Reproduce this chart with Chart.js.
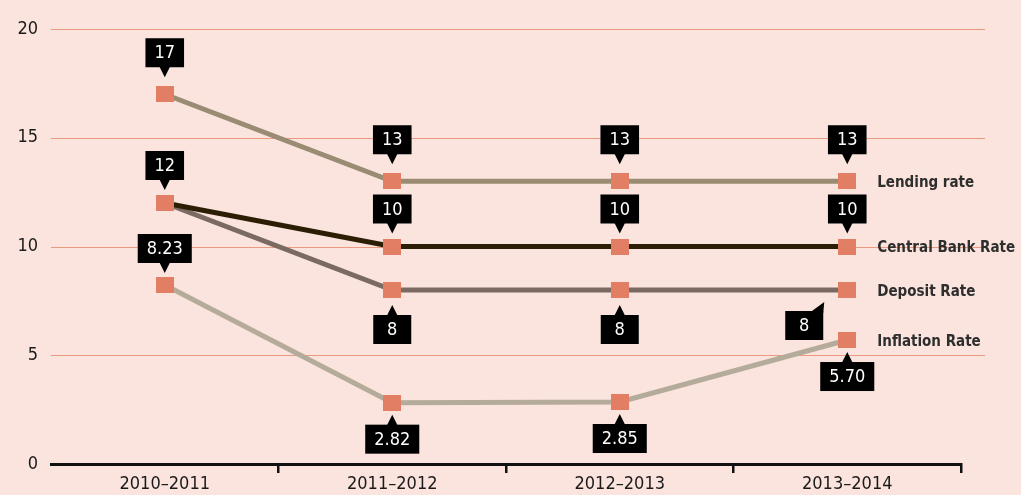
<!DOCTYPE html>
<html><head><meta charset="utf-8">
<script src="https://cdn.jsdelivr.net/npm/chart.js@4"></script>
<style>html,body{margin:0;padding:0;background:#fae4dd;}canvas{display:block}</style>
</head><body>
<canvas id="c" width="1021" height="495"></canvas>
<script>
// ---- data ----
const categories = ['2010–2011', '2011–2012', '2012–2013', '2013–2014'];
const lendingRate = [17, 13, 13, 13];
const centralBankRate = [12, 10, 10, 10];
const depositRate = [12, 8, 8, 8];
const inflationRate = [8.23, 2.82, 2.85, 5.70];
const seriesNames = ['Lending rate', 'Central Bank Rate', 'Deposit Rate', 'Inflation Rate'];
const yTicks = [0, 5, 10, 15, 20];

// ---- styles ----
const FONT = "'DejaVu Sans Condensed', 'DejaVu Sans', sans-serif";
const GRID = '#eb9a82';
const POINT = '#e27e63';

function squareImg(w, h, color) {
  const c = document.createElement('canvas');
  c.width = w; c.height = h;
  const g = c.getContext('2d');
  g.fillStyle = color; g.fillRect(0, 0, w, h);
  return c;
}
const sq = squareImg(18, 16, POINT);

function ds(label, data, color, decimals, placement, gap) {
  return {
    label, data, borderColor: color, backgroundColor: color, borderWidth: 5,
    pointStyle: sq, pointRadius: 9, pointHoverRadius: 9, tension: 0,
    decimals, labelPlacement: placement, labelGap: gap
  };
}

const gridPlugin = {
  id: 'extGrid',
  beforeDatasetsDraw(chart) {
    const { ctx, chartArea } = chart;
    const ys = chart.scales.y;
    ctx.save();
    ctx.strokeStyle = GRID; ctx.lineWidth = 1;
    yTicks.forEach(v => {
      if (v === 0) return;
      const y = Math.round(ys.getPixelForValue(v)) + 0.5;
      ctx.beginPath(); ctx.moveTo(chartArea.left, y); ctx.lineTo(chartArea.right + 24, y); ctx.stroke();
    });
    ctx.restore();
  }
};

const labelPlugin = {
  id: 'valueBoxes',
  afterDatasetsDraw(chart) {
    const ctx = chart.ctx;
    const xs = chart.scales.x, ys = chart.scales.y;
    ctx.save();
    chart.data.datasets.forEach((d, di) => {
      const meta = chart.getDatasetMeta(di);
      const gap = d.labelGap;
      d.labelPlacement.forEach((pl, i) => {
        if (!pl) return;
        const x = meta.data[i].x, y = meta.data[i].y;
        const text = d.data[i].toFixed(d.decimals);
        ctx.font = '18px ' + FONT;
        const w = Math.max(38, ctx.measureText(text).width + 18), h = 29;
        let bx, by;
        ctx.fillStyle = '#000';
        if (pl === 'above') {
          bx = x - w / 2; by = y - gap - h;
          ctx.fillRect(bx, by, w, h);
          ctx.beginPath(); ctx.moveTo(x - 6, by + h - 2); ctx.lineTo(x + 6, by + h - 2); ctx.lineTo(x, by + h + 10); ctx.closePath(); ctx.fill();
        } else if (pl === 'below') {
          bx = x - w / 2; by = y + gap;
          ctx.fillRect(bx, by, w, h);
          ctx.beginPath(); ctx.moveTo(x - 6, by + 2); ctx.lineTo(x + 6, by + 2); ctx.lineTo(x, by - 10); ctx.closePath(); ctx.fill();
        } else if (pl === 'belowLeft') {
          bx = x - 24 - w; by = y + 21;
          ctx.fillRect(bx, by, w, h);
          ctx.beginPath(); ctx.moveTo(bx + w - 14, by + 2); ctx.lineTo(bx + w, by + 2); ctx.lineTo(x - 23, y + 12); ctx.closePath(); ctx.fill();
        }
        ctx.fillStyle = '#fff';
        ctx.textAlign = 'center'; ctx.textBaseline = 'middle';
        ctx.fillText(text, bx + w / 2, by + h / 2 + 1);
      });
      // series name on the right
      const last = d.data.length - 1;
      ctx.fillStyle = '#2e2e2e';
      ctx.font = 'bold 15px ' + FONT;
      ctx.textAlign = 'left'; ctx.textBaseline = 'middle';
      ctx.fillText(d.label, xs.getPixelForValue(last) + 30, ys.getPixelForValue(d.data[last]) + 2);
    });
    ctx.restore();
  }
};

new Chart(document.getElementById('c'), {
  type: 'line',
  data: {
    labels: categories,
    datasets: [
      ds(seriesNames[0], lendingRate, '#9a8b73', 0, ['above', 'above', 'above', 'above'], 27),
      ds(seriesNames[1], centralBankRate, '#2b1e05', 0, ['above', 'above', 'above', 'above'], 23),
      ds(seriesNames[2], depositRate, '#7b6a62', 0, [null, 'below', 'below', 'belowLeft'], 25),
      ds(seriesNames[3], inflationRate, '#b5ab9a', 2, ['above', 'below', 'below', 'below'], 22)
    ]
  },
  options: {
    responsive: false,
    animation: false,
    events: [],
    layout: { padding: { top: 29, right: 60, left: 0, bottom: 0 } },
    plugins: { legend: { display: false }, tooltip: { enabled: false } },
    scales: {
      x: {
        offset: true,
        afterFit(s) { s.height = 31; },
        border: { display: true, color: '#111', width: 3 },
        grid: {
          offset: true, drawOnChartArea: false, drawTicks: true, tickLength: 9,
          lineWidth: 2.5, color: (c) => c.index === 0 ? 'rgba(0,0,0,0)' : '#111'
        },
        ticks: { color: '#1a1a1a', font: { family: FONT, size: 18 }, padding: 1, maxRotation: 0 }
      },
      y: {
        min: 0, max: 20,
        afterFit(s) { s.width = 51; },
        afterBuildTicks(s) { s.ticks = yTicks.map(v => ({ value: v })); },
        border: { display: false },
        grid: { display: false, drawTicks: false },
        ticks: { color: '#1a1a1a', font: { family: FONT, size: 18 }, padding: 13 }
      }
    }
  },
  plugins: [gridPlugin, labelPlugin]
});
</script>
</body></html>
